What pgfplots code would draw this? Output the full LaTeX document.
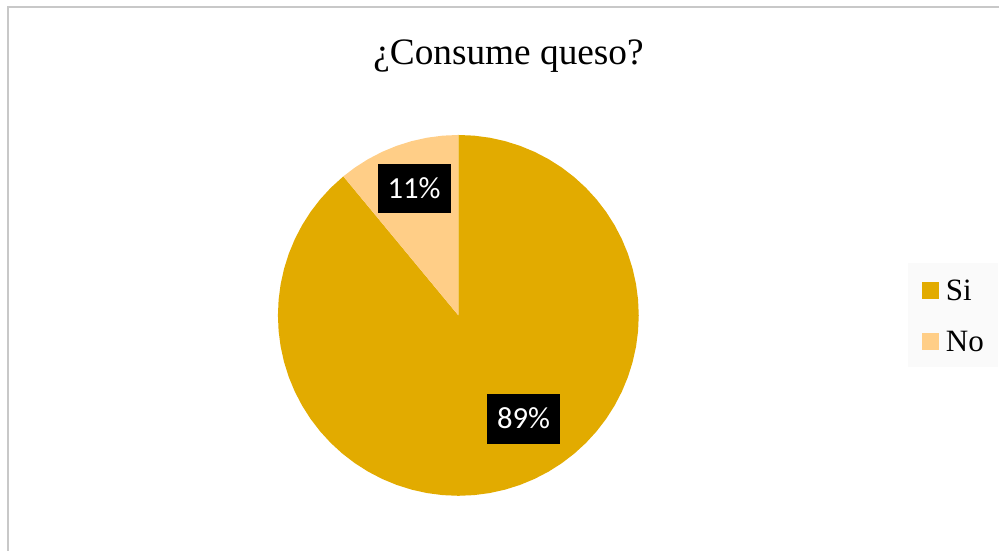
\documentclass[border=0pt]{standalone}
\usepackage{pgfplots}
\pgfplotsset{compat=1.18}
\usepackage{fontspec}
\setmainfont{Liberation Serif}
\newfontfamily\calibri{Carlito}
\definecolor{siCol}{RGB}{226,171,0}
\definecolor{noCol}{RGB}{255,206,135}
\definecolor{frameCol}{RGB}{200,200,200}
\definecolor{legBg}{RGB}{250,250,250}
\begin{document}
\begin{tikzpicture}
\begin{axis}[
  scale only axis, width=750bp, height=414bp,
  xmin=-458.8, xmax=541.2, ymin=-236.3, ymax=315.7,
  hide axis, clip=false,
  legend style={at={(axis cs:450.2,52.7)}, anchor=north west,
    fill=legBg, draw=none, inner xsep=10.5bp, inner ysep=12bp,
    row sep=22.25bp, column sep=5bp,
    nodes={inner sep=0pt, text height=16bp, text depth=0bp, font=\fontsize{23.3bp}{28bp}\selectfont}},
  legend cell align=left,
  legend image code/.code={\fill[#1,draw=none] (0bp,-6.7bp) rectangle (12.75bp,6.05bp);},
]
% fixed bounding box = whole picture
\path (axis cs:-458.8,-236.3) rectangle (axis cs:541.2,315.7);
% Si slice: 89%  (angle, radius)
\addplot[fill=siCol, draw=none, data cs=polar] coordinates {
(0,0) (129.6,180.6) (135,180.6) (140,180.6) (145,180.6) (150,180.6) (155,180.6) (160,180.6)
(165,180.6) (170,180.6) (175,180.6) (180,180.6) (185,180.6) (190,180.6) (195,180.6) (200,180.6)
(205,180.6) (210,180.6) (215,180.6) (220,180.6) (225,180.6) (230,180.6) (235,180.6) (240,180.6)
(245,180.6) (250,180.6) (255,180.6) (260,180.6) (265,180.6) (270,180.6) (275,180.6) (280,180.6)
(285,180.6) (290,180.6) (295,180.6) (300,180.6) (305,180.6) (310,180.6) (315,180.6) (320,180.6)
(325,180.6) (330,180.6) (335,180.6) (340,180.6) (345,180.6) (350,180.6) (355,180.6) (360,180.6)
(365,180.6) (370,180.6) (375,180.6) (380,180.6) (385,180.6) (390,180.6) (395,180.6) (400,180.6)
(405,180.6) (410,180.6) (415,180.6) (420,180.6) (425,180.6) (430,180.6) (435,180.6) (440,180.6)
(445,180.6) (450,180.6) (0,0)
} \closedcycle;
\addlegendentry{Si}
% No slice: 11%
\addplot[fill=noCol, draw=none, data cs=polar] coordinates {
(0,0) (90,180.6) (95,180.6) (100,180.6) (105,180.6) (110,180.6) (115,180.6) (120,180.6)
(125,180.6) (129.6,180.6) (0,0)
} \closedcycle;
\addlegendentry{No}
% frame
\draw[frameCol, line width=1.5bp] (axis cs:541.2,308.2) -- (axis cs:-450.3,308.2) -- (axis cs:-450.3,-236.3);
% title
\node[anchor=base, inner sep=0pt, font=\fontsize{28bp}{34bp}\selectfont] at (axis cs:50.2,250.7) {¿Consume queso?};
% data labels
\node[fill=black, text=white, inner sep=0pt, minimum width=54.75bp, minimum height=36.75bp,
  font=\calibri\fontsize{23bp}{28bp}\selectfont] at (axis cs:-44.3,127.2) {11\%};
\node[fill=black, text=white, inner sep=0pt, minimum width=55.5bp, minimum height=37.5bp,
  font=\calibri\fontsize{23bp}{28bp}\selectfont] at (axis cs:65.2,-103.3) {89\%};
\end{axis}
\end{tikzpicture}
\end{document}
